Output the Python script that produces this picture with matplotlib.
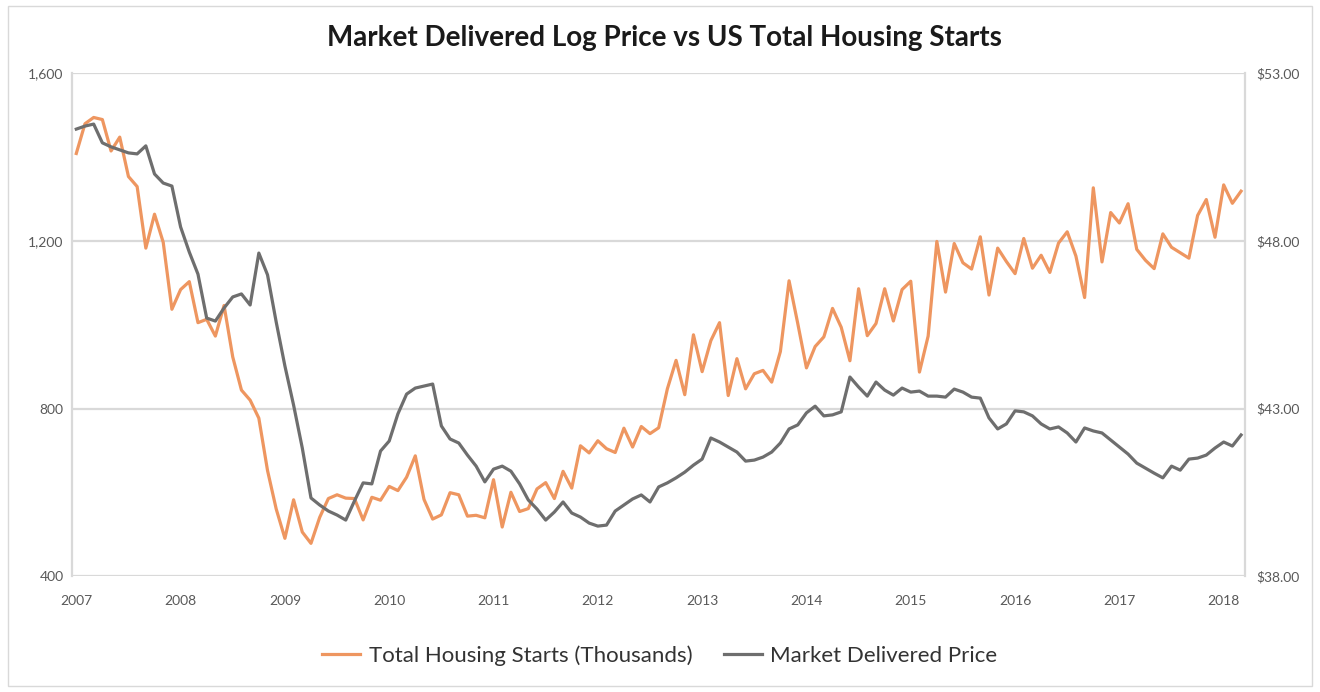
import matplotlib
matplotlib.use("Agg")
import matplotlib.pyplot as plt
from matplotlib.patches import Rectangle

plt.rcParams['font.family'] = ['Lato', 'DejaVu Sans']

year_labels = ["2007", "2008", "2009", "2010", "2011", "2012", "2013",
               "2014", "2015", "2016", "2017", "2018"]

# Monthly, Jan 2007 - Mar 2018
housing_starts = [
    1409, 1480, 1495, 1490, 1415, 1448, 1354, 1330, 1183, 1264, 1197, 1037,
    1084, 1103, 1005, 1013, 973, 1046, 923, 844, 820, 777, 652, 560,
    490, 582, 505, 478, 540, 585, 594, 586, 585, 534, 588, 581,
    614, 604, 636, 687, 583, 536, 546, 599, 594, 543, 545, 539,
    630, 517, 600, 554, 561, 608, 623, 585, 650, 610, 711, 694,
    723, 704, 695, 753, 708, 757, 740, 754, 847, 915, 833, 976,
    888, 962, 1005, 831, 919, 847, 883, 891, 863, 936, 1105, 1003,
    897, 948, 971, 1039, 994, 914, 1086, 974, 1003, 1086, 1009, 1084,
    1104, 887, 973, 1199, 1078, 1194, 1148, 1133, 1210, 1071, 1183, 1151,
    1122, 1206, 1135, 1166, 1125, 1195, 1222, 1164, 1065, 1327, 1150, 1268,
    1243, 1289, 1180, 1154, 1134, 1217, 1185, 1172, 1159, 1261, 1299, 1209,
    1334, 1290, 1319,
]

market_price = [
    51.34, 51.43, 51.49, 50.93, 50.81, 50.72, 50.63, 50.60, 50.84, 50.00, 49.73, 49.64,
    48.42, 47.67, 47.01, 45.70, 45.61, 46.00, 46.33, 46.42, 46.09, 47.64, 46.99, 45.58,
    44.27, 43.10, 41.82, 40.33, 40.12, 39.94, 39.82, 39.67, 40.24, 40.78, 40.75, 41.73,
    42.03, 42.84, 43.43, 43.61, 43.67, 43.73, 42.48, 42.09, 41.97, 41.61, 41.28, 40.81,
    41.19, 41.28, 41.13, 40.75, 40.27, 40.00, 39.67, 39.91, 40.21, 39.88, 39.76, 39.58,
    39.49, 39.52, 39.94, 40.12, 40.30, 40.42, 40.21, 40.66, 40.78, 40.93, 41.10, 41.31,
    41.49, 42.12, 42.00, 41.85, 41.70, 41.43, 41.46, 41.55, 41.70, 41.97, 42.39, 42.51,
    42.87, 43.07, 42.78, 42.81, 42.90, 43.94, 43.64, 43.37, 43.79, 43.55, 43.40, 43.61,
    43.49, 43.52, 43.37, 43.37, 43.34, 43.58, 43.49, 43.34, 43.31, 42.72, 42.39, 42.54,
    42.93, 42.90, 42.78, 42.54, 42.39, 42.45, 42.27, 42.00, 42.42, 42.33, 42.27, 42.06,
    41.85, 41.64, 41.37, 41.22, 41.07, 40.93, 41.28, 41.16, 41.49, 41.52, 41.61, 41.82,
    42.00, 41.88, 42.21,
]

left_ticks = [400, 800, 1200, 1600]
right_ticks = [38, 43, 48, 53]

orange = '#EE9660'
grey = '#6E6E6E'
grid_c = '#D9D9D9'
txt_c = '#595959'

fig = plt.figure(figsize=(13.2, 6.92), dpi=100)
fig.patches.append(Rectangle((0.006, 0.008), 0.988, 0.984, transform=fig.transFigure,
                             fill=False, edgecolor='#D9D9D9', linewidth=1.0))
ax1 = fig.add_axes([0.0545, 0.1676, 0.889, 0.7262])
ax2 = ax1.twinx()

x = list(range(len(housing_starts)))
l1, = ax1.plot(x, housing_starts, color=orange, lw=2.3, solid_joinstyle='round',
               label='Total Housing Starts (Thousands)')
l2, = ax2.plot(x, market_price, color=grey, lw=2.3, solid_joinstyle='round',
               label='Market Delivered Price')

ax1.set_xlim(-0.5, len(x) - 0.5)
ax1.set_ylim(400, 1600)
ax2.set_ylim(38, 53)

ax1.set_yticks(left_ticks)
ax1.set_yticklabels([f"{v:,}" for v in left_ticks])
ax2.set_yticks(right_ticks)
ax2.set_yticklabels([f"${v:.2f}" for v in right_ticks])
ax1.set_xticks([12 * k for k in range(len(year_labels))])
ax1.set_xticklabels(year_labels)

ax1.yaxis.grid(True, color=grid_c, lw=1.6)
ax1.set_axisbelow(True)

for ax in (ax1, ax2):
    for s in ax.spines.values():
        s.set_visible(False)
    ax.tick_params(length=0, colors=txt_c, labelsize=10)
ax1.spines['left'].set_visible(True)
ax1.spines['left'].set_color(grid_c)
ax1.spines['left'].set_linewidth(1.6)
ax2.spines['right'].set_visible(True)
ax2.spines['right'].set_color(grid_c)
ax2.spines['right'].set_linewidth(1.6)
ax1.tick_params(axis='y', pad=6)
ax2.tick_params(axis='y', pad=8)
ax1.tick_params(axis='x', pad=14)

fig.text(0.503, 0.945, "Market Delivered Log Price vs US Total Housing Starts",
         ha='center', va='center', fontsize=20, fontweight='bold', color='#1a1a1a')

fig.legend(handles=[l1, l2], loc='center', bbox_to_anchor=(0.5, 0.053), ncol=2,
           frameon=False, fontsize=16, handlelength=1.7, columnspacing=1.4,
           handletextpad=0.4, labelcolor='#333333')

fig.savefig("out.png", dpi=100)
